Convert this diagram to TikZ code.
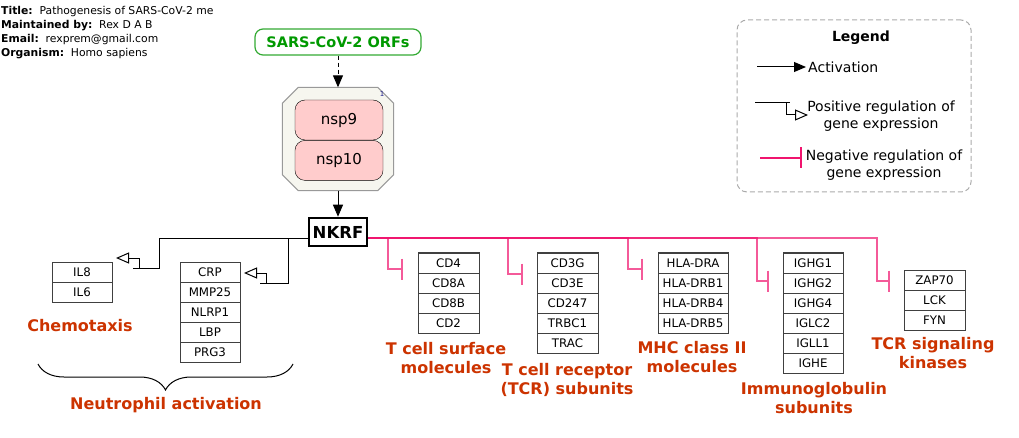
\documentclass[tikz,border=0pt]{standalone}
\usepackage{fontspec}
\setmainfont{DejaVu Sans}
\usetikzlibrary{arrows.meta,positioning,calc,decorations.pathreplacing}
\definecolor{orfgreen}{HTML}{009900}
\definecolor{orfline}{HTML}{33AA33}
\definecolor{cplxfill}{HTML}{F6F6EF}
\definecolor{cplxline}{HTML}{999999}
\definecolor{nspfill}{HTML}{FFCCCC}
\definecolor{catred}{HTML}{CC3300}
\definecolor{negpink}{HTML}{F0146E}
\definecolor{tableline}{HTML}{404040}
\definecolor{legline}{HTML}{AAAAAA}
\definecolor{numblue}{HTML}{202090}
\tikzset{
  info/.style={anchor=base west, inner sep=0pt, font=\fontsize{10.8}{12}\selectfont},
  orfbox/.style={draw=orfline, line width=1.2pt, rounded corners=8pt, fill=white, text=orfgreen, font=\fontsize{14.5}{16}\selectfont\bfseries, minimum width=166pt, minimum height=26pt, inner sep=0pt},
  cplxbox/.style={draw=cplxline, fill=cplxfill, line width=1pt},
  nspbox/.style={draw=black, fill=nspfill, rounded corners=10pt, minimum width=88pt, minimum height=40pt, inner sep=0pt, font=\fontsize{15}{17}\selectfont},
  nkrfbox/.style={draw=black, line width=2.5pt, fill=white, minimum width=58pt, minimum height=28pt, inner sep=0pt, font=\fontsize{16.5}{18}\selectfont\bfseries},
  genebox/.style={draw=tableline, line width=1pt, fill=white, minimum height=20pt, inner sep=0pt, outer sep=0pt, font=\fontsize{11.8}{13}\selectfont},
  catlabel/.style={text=catred, align=center, inner sep=0pt, font=\fontsize{16}{19}\selectfont\bfseries},
  legbox/.style={draw=legline, dashed, dash pattern=on 5pt off 3pt, rounded corners=10pt, line width=1pt, minimum width=234pt, minimum height=172pt},
  legtext/.style={align=center, inner sep=2pt, font=\fontsize{14}{17}\selectfont},
  actarrow/.style={-{Triangle[length=12pt,width=10pt]}, line width=1pt, draw=black},
  posarrow/.style={-{Triangle[open,length=13pt,width=11pt]}, line width=1pt, draw=black},
  negarrow/.style={-{Bar[width=21pt,line width=2.5pt]}, line width=1.3pt, draw=negpink, draw opacity=0.7}
}
\begin{document}
\begin{tikzpicture}[x=1pt,y=-1pt]
\useasboundingbox (0,0) rectangle (1019,438);
% header
\foreach \key/\val [count=\i] in {Title/Pathogenesis of SARS-CoV-2 me, Maintained by/Rex D A B, Email/rexprem@gmail.com, Organism/Homo sapiens}
  \node[info] (info\i) at (1,1+14*\i) {\textbf{\key:}\ \ \val};
% upstream
\node[orfbox] (orfs) at (338,42) {SARS-CoV-2 ORFs};
\node[minimum width=111pt, minimum height=103pt, inner sep=0pt] (cplx) at (338,139) {};
\draw[cplxbox] ($(cplx.north west)+(16,0)$) -- ($(cplx.north east)+(-16,0)$) -- ($(cplx.north east)+(0,16)$)
  -- ($(cplx.south east)+(0,-16)$) -- ($(cplx.south east)+(-16,0)$) -- ($(cplx.south west)+(16,0)$)
  -- ($(cplx.south west)+(0,-16)$) -- ($(cplx.north west)+(0,16)$) -- cycle;
\node[nspbox] (nsp9) at (339,120) {nsp9};
\node[nspbox, below=0pt of nsp9] (nsp10) {nsp10};
\node[text=numblue, inner sep=0pt, font=\fontsize{7}{8}\selectfont] (cplxnum) at (382,94) {1};
\node[nkrfbox] (nkrf) at (338,232) {NKRF};
\draw[actarrow, dashed, dash pattern=on 4pt off 3pt] (orfs) -- (cplx);
\draw[actarrow] (cplx) -- (nkrf);
% gene tables
\foreach \gname [count=\i] in {IL8,IL6}
  \node[genebox, minimum width=60pt] (chem\i) at (82,252+20*\i) {\gname};
\foreach \gname [count=\i] in {CRP,MMP25,NLRP1,LBP,PRG3}
  \node[genebox, minimum width=60pt] (neut\i) at (210,252+20*\i) {\gname};
\foreach \gname [count=\i] in {CD4,CD8A,CD8B,CD2}
  \node[genebox, minimum width=61pt] (tcs\i) at (448.5,243+20*\i) {\gname};
\foreach \gname [count=\i] in {CD3G,CD3E,CD247,TRBC1,TRAC}
  \node[genebox, minimum width=61pt] (tcr\i) at (567.5,243+20*\i) {\gname};
\foreach \gname [count=\i] in {HLA-DRA,HLA-DRB1,HLA-DRB4,HLA-DRB5}
  \node[genebox, minimum width=70pt] (mhc\i) at (693,243+20*\i) {\gname};
\foreach \gname [count=\i] in {IGHG1,IGHG2,IGHG4,IGLC2,IGLL1,IGHE}
  \node[genebox, minimum width=60pt] (ig\i) at (813,243+20*\i) {\gname};
\foreach \gname [count=\i] in {ZAP70,LCK,FYN}
  \node[genebox, minimum width=61pt] (kin\i) at (934.5,260+20*\i) {\gname};
% category labels
\node[catlabel] (chemlab) at (80,326) {Chemotaxis};
\node[catlabel] (neutlab) at (166,405) {Neutrophil activation};
\node[catlabel] (tcslab) at (446,358) {T cell surface\\molecules};
\node[catlabel] (tcrlab) at (567,380) {T cell receptor\\(TCR) subunits};
\node[catlabel] (mhclab) at (692,357) {MHC class II\\molecules};
\node[catlabel] (iglab) at (814,398) {Immunoglobulin\\subunits};
\node[catlabel] (kinlab) at (933,353) {TCR signaling\\kinases};
\draw[decorate, decoration={brace, amplitude=26pt}, line width=1pt] (293,364) -- (38,364);
% positive regulation
\coordinate (chemtip) at (116,258);
\coordinate (neuttip) at (244,273);
\draw[posarrow] ($(nkrf.west)+(0,7)$) -| (159,268) -- (133,268) (139,268) -- (139,258) -- (chemtip);
\draw[posarrow] ($(nkrf.west)+(0,7)$) -| (288,283) -- (260,283) (266,283) -- (266,273) -- (neuttip);
% negative regulation
\coordinate (tcsbar) at (403,269);
\coordinate (tcrbar) at (523,274);
\coordinate (mhcbar) at (643,269);
\coordinate (igbar) at (769,281);
\coordinate (kinbar) at (890,281);
\foreach \tip/\dx in {tcsbar/15, tcrbar/15, mhcbar/15, igbar/12, kinbar/13}
  \draw[negarrow] ($(nkrf.east)+(0,6)$) -| ($(\tip)+(-\dx,0)$) -- (\tip);
% legend
\node[legbox] (legend) at (854,106) {};
\node[legtext, font=\fontsize{14}{17}\selectfont\bfseries] (legtitle) at (861,38) {Legend};
\node[legtext, anchor=west] (lact) at (806,67) {Activation};
\node[legtext] (lpos) at (881,116) {Positive regulation of\\gene expression};
\node[legtext] (lneg) at (884,165) {Negative regulation of\\gene expression};
\coordinate (lact0) at (757,67);
\coordinate (lpos0) at (755,103);
\coordinate (lposend) at (808,115);
\coordinate (lneg0) at (760,158);
\coordinate (lnegend) at (802,158);
\draw[actarrow] (lact0) -- (lact.west);
\draw[posarrow] (lpos0) -- (790,103) (786,103) -- (786,115) -- (lposend);
\draw[negarrow, draw opacity=1] (lneg0) -- (lnegend);
\end{tikzpicture}
\end{document}
